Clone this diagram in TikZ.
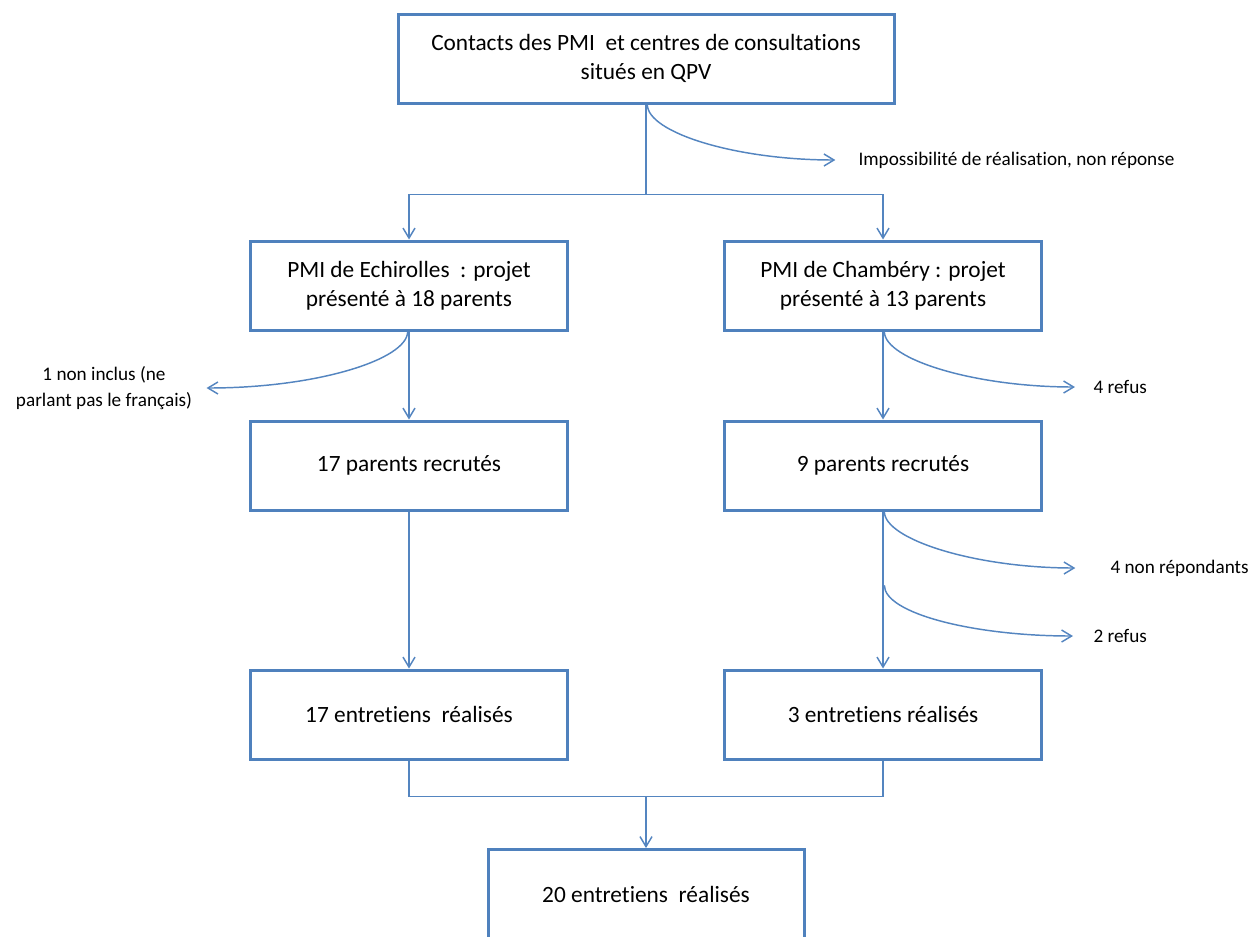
\documentclass[tikz,border=0pt]{standalone}
\usepackage{fontspec}
\setmainfont{Carlito}[Ligatures=NoCommon]
\usetikzlibrary{arrows.meta,calc}

\definecolor{boxblue}{HTML}{4F81BD}
\definecolor{lineblue}{HTML}{5485C0}

\tikzset{every picture/.style={line width=0.75pt}}
\tikzset{
	stepbox/.style={draw=boxblue, line width=2.25pt, minimum width=237.75pt, minimum height=66.75pt, inner sep=0pt, align=center, font=\fontsize{17.5}{22}\selectfont},
	note/.style={inner sep=0pt, align=center, font=\fontsize{14.4}{19.5}\selectfont},
	conn/.style={draw=lineblue, line width=1.1pt},
	arr/.style={conn, -{Straight Barb[length=7.5pt,width=9pt]}},
}

\begin{document}
\begin{tikzpicture}[x=0.75pt,y=0.75pt,yscale=-1,xscale=1]
		\clip (0,0) rectangle (1253,936); %set diagram to 1253 x 936
		
		%Boxes
		\node [stepbox, minimum width=372pt] (top) at (646,58.5) {Contacts des PMI\ \ et centres de consultations\\situés en QPV};
		\node [stepbox] (pmi1) at (409,285.5) {PMI de Echirolles\ \ : projet\\présenté à 18 parents};
		\node [stepbox] (pmi2) at (883,285.5) {PMI de Chambéry : projet\\présenté à 13 parents};
		\node [stepbox] (rec1) at (409,465.5) {17 parents recrutés};
		\node [stepbox] (rec2) at (883,465.5) {9 parents recrutés};
		\node [stepbox] (ent1) at (409,714.5) {17 entretiens\ \ réalisés};
		\node [stepbox] (ent2) at (883,714.5) {3 entretiens réalisés};
		\node [stepbox, minimum width=237pt] (fin) at (646,894) {20 entretiens\ \ réalisés};
		
		%Side notes
		\node [note, anchor=west] (impos) at (858,160) {Impossibilité de réalisation, non réponse};
		\node [note] (noninc) at (104,388) {1 non inclus (ne\\parlant pas le français)};
		\node [note, anchor=west] (refusa) at (1093,387) {4 refus};
		\node [note, anchor=west] (nonrep) at (1110,568) {4 non répondants};
		\node [note, anchor=west] (refusb) at (1093,636) {2 refus};
		
		%Split and merge points
		\coordinate (fork) at ($(top.south)+(0,90)$);
		\coordinate (split) at ($(rec2.south)!.47!(ent2.north)$);
		\coordinate (merge) at ($(ent1.south)!.5!(ent2.south)+(0,36)$);
		
		%Main flow
		\draw [conn] (top.south) -- (fork);
		\draw [arr] (fork) -| (pmi1.north);
		\draw [arr] (fork) -| (pmi2.north);
		\draw [arr] (pmi1.south) -- (rec1.north);
		\draw [arr] (pmi2.south) -- (rec2.north);
		\draw [arr] (rec1.south) -- (ent1.north);
		\draw [arr] (rec2.south) -- (ent2.north);
		\draw [conn] (ent1.south) |- (merge) -| (ent2.south);
		\draw [arr] (merge) -- (fin.north);
		
		%Exits
		\draw [arr] ([xshift=1pt]top.south) .. controls +(0,28) and +(-100,0) .. ([xshift=-17pt]impos.west);
		\draw [arr] ([xshift=-1pt]pmi1.south) .. controls +(0,28) and +(110,0) .. ([xshift=10.5pt]noninc.east);
		\draw [arr] ([xshift=1pt]pmi2.south) .. controls +(0,28) and +(-100,0) .. ([xshift=-13.5pt]refusa.west);
		\draw [arr] ([xshift=1pt]rec2.south) .. controls +(0,28) and +(-100,0) .. ([xshift=-26pt]nonrep.west);
		\draw [arr] ([xshift=1pt]split) .. controls +(0,28) and +(-100,0) .. ([xshift=-15pt]refusb.west);
		
	\end{tikzpicture}
\end{document}
